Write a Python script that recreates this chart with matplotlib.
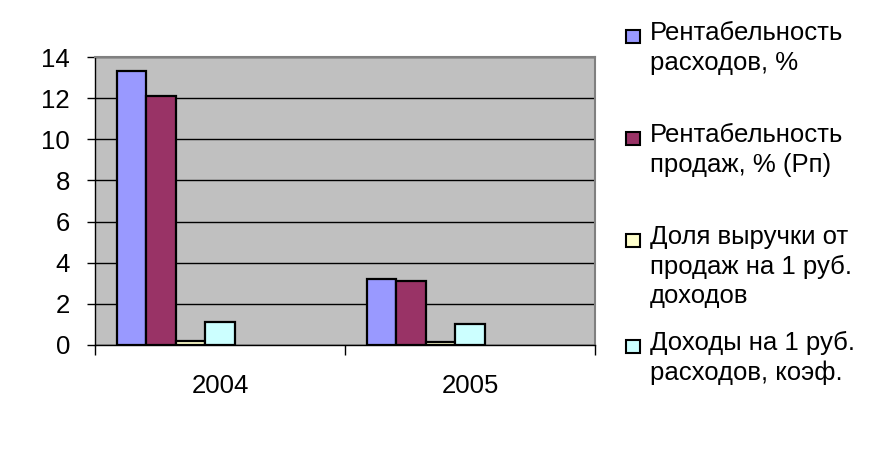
import matplotlib.pyplot as plt
from matplotlib.patches import Rectangle

plt.rcParams['font.family'] = ['Liberation Sans', 'DejaVu Sans']

years = ["2004", "2005"]
series_names = [
    "Рентабельность\nрасходов, %",
    "Рентабельность\nпродаж, % (Рп)",
    "Доля выручки от\nпродаж на 1 руб.\nдоходов",
    "Доходы на 1 руб.\nрасходов, коэф.",
]
rent_rashodov = [13.3, 3.2]
rent_prodazh = [12.1, 3.1]
dolya_vyruchki = [0.2, 0.13]
dohody_na_rub = [1.1, 1.04]
colors = ["#9999FF", "#993366", "#FFFFCC", "#CCFFFF"]

values = [rent_rashodov, rent_prodazh, dolya_vyruchki, dohody_na_rub]

fig = plt.figure(figsize=(8.75, 4.51), dpi=100)
ax = fig.add_axes([95 / 875, 1 - 345 / 451, 500 / 875, 288 / 451])
ax.set_facecolor("#C0C0C0")

# excel-like layout: 7 slots per category, gap width 150%
w = 1 / (7 + 1.5)
for i, vals in enumerate(values):
    xs = [c - 0.5 + 0.75 * w + i * w for c in range(len(years))]
    ax.bar(xs, vals, width=w, align="edge", color=colors[i],
           edgecolor="black", linewidth=1.6, zorder=3)

ax.set_xlim(-0.5, len(years) - 0.5)
ax.set_ylim(0, 14)
ax.set_yticks(range(0, 15, 2))
ax.yaxis.grid(True, color="black", linewidth=1.0, zorder=0)
ax.set_axisbelow(True)

ax.set_xticks(range(len(years)))
ax.set_xticklabels(years)
ax.set_xticks([-0.5, 0.5, 1.5], minor=True)
ax.tick_params(axis="x", which="major", length=0, pad=21, labelsize=18.5)
ax.tick_params(axis="x", which="minor", length=7, width=1)
ax.tick_params(axis="y", length=6, width=1, pad=12, labelsize=18.5)

for s in ["top", "right"]:
    ax.spines[s].set_color("#808080")
    ax.spines[s].set_linewidth(1.5)
for s in ["left", "bottom"]:
    ax.spines[s].set_color("black")
    ax.spines[s].set_linewidth(1.0)

# legend on the right (pixel rows of each entry's first baseline)
baselines = [43, 145, 247, 353]
for i, name in enumerate(series_names):
    b = baselines[i]
    fig.patches.append(Rectangle((626 / 875, 1 - b / 451), 14 / 875, 13 / 451,
                                 transform=fig.transFigure, facecolor=colors[i],
                                 edgecolor="black", linewidth=1.5))
    fig.text(650 / 875, 1 - (b - 22) / 451, name, fontsize=18.5, va="top",
             ha="left", linespacing=1.3)

fig.savefig("out.png", dpi=100)
